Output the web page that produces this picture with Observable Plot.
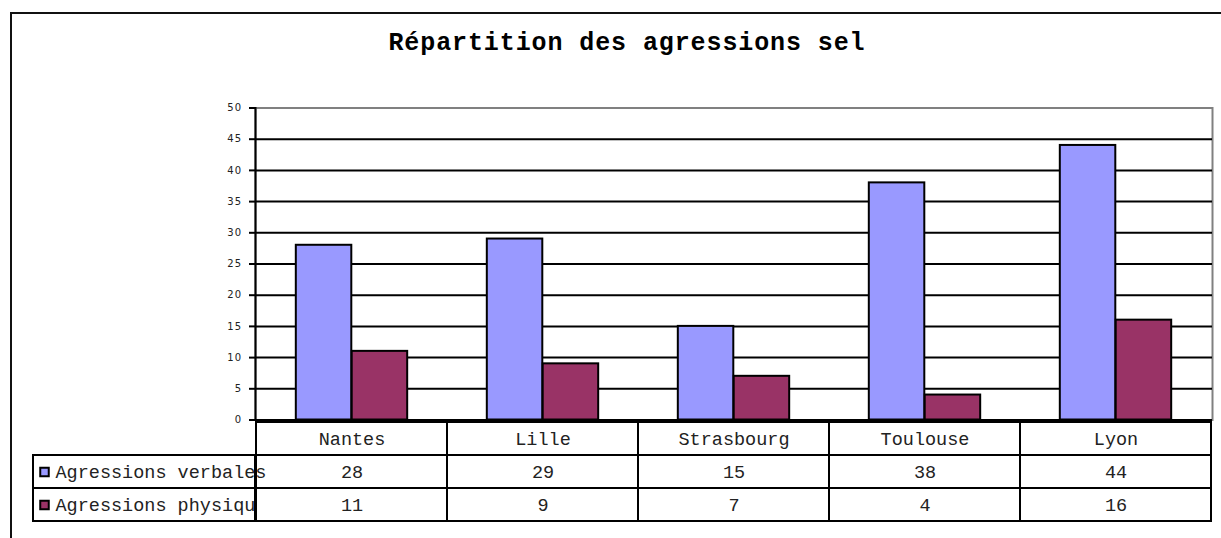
<!DOCTYPE html>
<html>
<head>
<meta charset="utf-8">
<script src="https://cdn.jsdelivr.net/npm/d3@7"></script>
<script src="https://cdn.jsdelivr.net/npm/@observablehq/plot@0.6"></script>
<style>
  html, body { margin: 0; padding: 0; background: white; }
  #wrap { position: relative; width: 1221px; height: 538px; overflow: hidden; background: white; }
  #border { position: absolute; left: 10px; top: 12px; right: -10px; bottom: -10px; border-left: 2px solid #111; border-top: 2px solid #111; }
  #title { position: absolute; left: 0; width: 1254px; top: 31px; text-align: center; font-family: "Liberation Mono", monospace; font-weight: bold; font-size: 25px; line-height: 25px; letter-spacing: 0.9px; color: #000; white-space: nowrap; }
  .layer { position: absolute; top: 0; }
</style>
</head>
<body>
<div id="wrap">
  <div id="border"></div>
  <div id="title"></div>
</div>
<script>
const title = "Répartition des agressions sel";
const cities = ["Nantes", "Lille", "Strasbourg", "Toulouse", "Lyon"];
const verbales = [28, 29, 15, 38, 44];
const physiques = [11, 9, 7, 4, 16];
const seriesLabels = ["Agressions verbales", "Agressions physiqu"];
const seriesColors = ["#9999FF", "#993366"];
const yTicks = [0, 5, 10, 15, 20, 25, 30, 35, 40, 45, 50];

document.getElementById("title").textContent = title;
const wrap = document.getElementById("wrap");

const W = 1221, H = 538;
const mL = 255, mR = 9, mT = 107.5, mB = 118.5;
const bw = (W - mL - mR) / cities.length;

const data = cities.map((c, i) => ({city: c, verbal: verbales[i], physical: physiques[i]}));
const mono = "'Liberation Mono', 'Courier New', monospace";

const main = Plot.plot({
  width: W, height: H,
  marginLeft: mL, marginRight: mR, marginTop: mT, marginBottom: mB,
  x: {domain: cities, padding: 0, axis: null},
  y: {domain: [0, 50], axis: null},
  style: {background: "transparent", overflow: "visible", fontSize: "10px", fontFamily: "'DejaVu Sans', Verdana, sans-serif"},
  marks: [
    Plot.frame({stroke: "#808080", strokeWidth: 2}),
    Plot.ruleY(yTicks.filter(t => t > 0 && t < 50), {stroke: "black", strokeWidth: 2}),
    Plot.ruleY([0], {stroke: "black", strokeWidth: 2}),
    Plot.barY(data, {x: "city", y: "verbal", fill: seriesColors[0], stroke: "black", strokeWidth: 2,
      insetLeft: bw * 0.208, insetRight: bw * 0.5}),
    Plot.barY(data, {x: "city", y: "physical", fill: seriesColors[1], stroke: "black", strokeWidth: 2,
      insetLeft: bw * 0.5, insetRight: bw * 0.208}),
    Plot.axisY({ticks: yTicks, tickSize: 6, tickPadding: 7, stroke: "black", strokeWidth: 2,
      fontSize: 10, fill: "#222", label: null}),
    Plot.frame({anchor: "left", stroke: "black", strokeWidth: 2})
  ]
});
main.classList.add("layer");
main.style.left = "0px";
main.querySelectorAll("text").forEach(t => { t.style.letterSpacing = "1.3px"; });
wrap.appendChild(main);

const rows = ["cat", "v", "p"];
const tableData = cities.flatMap((c, i) => [
  {city: c, row: "cat", label: c},
  {city: c, row: "v", label: String(verbales[i])},
  {city: c, row: "p", label: String(physiques[i])}
]);
const tT = 421, tB = H - 521;

const table = Plot.plot({
  width: W, height: H,
  marginLeft: mL, marginRight: mR, marginTop: tT, marginBottom: tB,
  x: {domain: cities, padding: 0, axis: null},
  y: {domain: rows, padding: 0, axis: null},
  style: {background: "transparent", overflow: "visible"},
  marks: [
    Plot.cell(tableData, {x: "city", y: "row", fill: "white", stroke: "black", strokeWidth: 2, inset: 0}),
    Plot.text(tableData, {x: "city", y: "row", text: "label", fontFamily: mono, fontSize: 18.5, fill: "#222"})
  ]
});
table.classList.add("layer");
table.style.left = "0px";
wrap.appendChild(table);

const legendData = [
  {row: "v", label: seriesLabels[0], color: seriesColors[0]},
  {row: "p", label: seriesLabels[1], color: seriesColors[1]}
];
const legend = Plot.plot({
  width: mL - 33, height: H,
  marginLeft: 0, marginRight: 0, marginTop: tT, marginBottom: tB,
  y: {domain: rows, padding: 0, axis: null},
  style: {background: "transparent", overflow: "visible"},
  marks: [
    Plot.cell(legendData, {y: "row", fill: "none", stroke: "black", strokeWidth: 2, inset: 0}),
    ...legendData.map(d => Plot.dot([d], {y: "row", frameAnchor: "left", dx: 11, symbol: "square", r: 4.8,
      fill: d.color, stroke: "black", strokeWidth: 2})),
    Plot.text(legendData, {y: "row", text: "label", frameAnchor: "left", dx: 22, textAnchor: "start",
      fontFamily: mono, fontSize: 18.5, fill: "#222"})
  ]
});
legend.classList.add("layer");
legend.style.left = "33px";
wrap.appendChild(legend);
</script>
</body>
</html>
